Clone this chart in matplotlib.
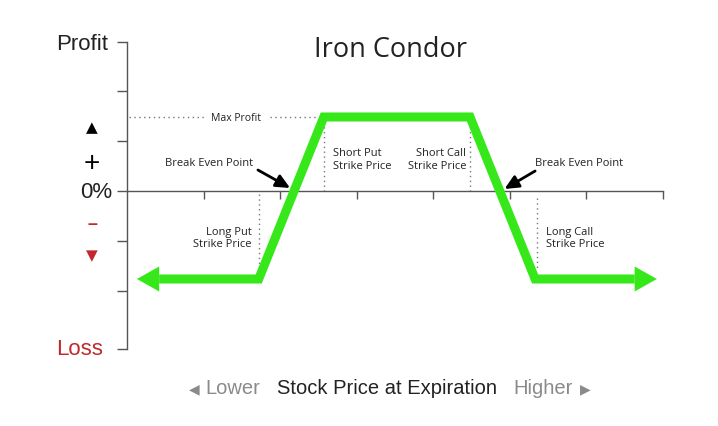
import matplotlib
matplotlib.use("Agg")
import matplotlib.pyplot as plt

# ---------------------------------------------------------------------------
# Data (x: price ticks 0..7, y: profit units, 0 = break even)
# ---------------------------------------------------------------------------
strike_x = [1.72, 2.57, 4.48, 5.33]          # long put, short put, short call, long call
payoff_y = [-1.76, 1.48, 1.48, -1.76]
arrow_tips = [0.13, 6.92]
arrow_bases = [0.42, 6.63]
y_ticks = [2.98, 2, 1, 0, -1, -2, -3.16]
x_ticks = [1, 2, 3, 4, 5, 6, 7]
max_profit = 1.48
loss_level = -1.76

GREEN = "#36e81a"
AXIS = "#555555"
RED = "#c0282d"
GREY = "#8a8a8a"

W, H = 718, 427
fig = plt.figure(figsize=(W / 100, H / 100), dpi=100)
ax = fig.add_axes([127 / W, (H - 350) / H, 536 / W, 307 / H])
ax.set_xlim(0, 7)
ax.set_ylim(-3.16, 2.98)

for s in ["top", "right"]:
    ax.spines[s].set_visible(False)
ax.spines["bottom"].set_position(("data", 0))
for s in ["left", "bottom"]:
    ax.spines[s].set_color(AXIS)
    ax.spines[s].set_linewidth(1.0)
ax.set_yticks(y_ticks)
ax.set_xticks(x_ticks)
ax.set_yticklabels([])
ax.set_xticklabels([])
ax.tick_params(axis="y", direction="out", length=7, width=1.0, color=AXIS)
ax.tick_params(axis="x", direction="out", length=6, width=1.0, color=AXIS)
ax.patch.set_alpha(0)

# payoff line
px = [arrow_bases[0]] + strike_x + [arrow_bases[1]]
py = [loss_level] + payoff_y + [loss_level]
ax.plot(px, py, color=GREEN, lw=6.5, solid_joinstyle="miter", solid_capstyle="butt", zorder=5)
for tip, base in zip(arrow_tips, arrow_bases):
    ax.annotate("", xy=(tip, loss_level), xytext=(base, loss_level),
                arrowprops=dict(arrowstyle="-|>,head_length=1.6,head_width=0.9",
                                mutation_scale=10, color=GREEN, lw=0,
                                shrinkA=0, shrinkB=0), zorder=5)

# dotted guide lines
dot = dict(color="#777777", lw=1.0, ls=(0, (1, 2.5)), zorder=2)
ax.plot([0.03, strike_x[1]], [max_profit, max_profit], **dot)
ax.plot([strike_x[0]] * 2, [-0.06, -1.5], **dot)
ax.plot([strike_x[1]] * 2, [max_profit, 0], **dot)
ax.plot([strike_x[2]] * 2, [max_profit, 0], **dot)
ax.plot([5.35] * 2, [-0.14, -1.56], **dot)

lab = dict(family="Open Sans", fontsize=8, color="#222222", linespacing=1.2)
ax.text(1.42, max_profit, "Max Profit", ha="center", va="center",
        bbox=dict(fc="white", ec="none", pad=5), zorder=3,
        **{**lab, "fontsize": 7.5})
ax.text(1.07, 0.58, "Break Even Point", ha="center", va="center", **lab)
ax.text(5.33, 0.56, "Break Even Point", ha="left", va="center", **lab)
ax.text(1.63, -0.93, "Long Put\nStrike Price", ha="right", va="center", **lab)
ax.text(2.69, 0.64, "Short Put\nStrike Price", ha="left", va="center", **lab)
ax.text(4.43, 0.64, "Short Call\nStrike Price", ha="right", va="center", **lab)
ax.text(5.47, -0.93, "Long Call\nStrike Price", ha="left", va="center", **lab)

arr = dict(arrowstyle="-|>,head_length=0.6,head_width=0.28", color="black",
           lw=2.0, mutation_scale=14, shrinkA=0, shrinkB=0)
ax.annotate("", xy=(2.13, 0.06), xytext=(1.71, 0.42), arrowprops=arr, zorder=6)
ax.annotate("", xy=(4.93, 0.04), xytext=(5.33, 0.40), arrowprops=arr, zorder=6)

# title and side labels
fig.text(391 / W, 1 - 50 / H, "Iron Condor", ha="center", va="center",
         family="Open Sans", fontsize=19.5, color="#222222")
side = dict(family="Liberation Sans", fontsize=16, ha="right", va="center")
fig.text(108 / W, 1 - 45 / H, "Profit", color="#222222", **side)
fig.text(112 / W, 1 - 193 / H, "0%", color="#222222", **side)
fig.text(103 / W, 1 - 350 / H, "Loss", color=RED, **side)
fig.text(92 / W, 1 - 128 / H, "\u25B2", ha="center", va="center", fontsize=11,
         family="DejaVu Sans", color="black")
fig.text(92 / W, 1 - 164 / H, "+", ha="center", va="center", fontsize=20,
         family="Liberation Sans", color="black")
fig.text(92 / W, 1 - 225 / H, "\u2013", ha="center", va="center", fontsize=13,
         family="Liberation Sans", color=RED, weight="bold")
fig.text(92 / W, 1 - 256 / H, "\u25BC", ha="center", va="center", fontsize=11,
         family="DejaVu Sans", color=RED)

# bottom axis caption
bot = dict(family="Liberation Sans", fontsize=14.5, va="center")
fig.text(189 / W, 1 - 389 / H, "\u25C0", color=GREY, ha="left", fontsize=10,
         family="DejaVu Sans", va="center")
fig.text(205 / W, 1 - 389 / H, "Lower", color=GREY, ha="left", **bot)
fig.text(387 / W, 1 - 389 / H, "Stock Price at Expiration", color="#222222",
         ha="center", **bot)
fig.text(513 / W, 1 - 389 / H, "Higher", color=GREY, ha="left", **bot)
fig.text(591 / W, 1 - 389 / H, "\u25B6", color=GREY, ha="right", fontsize=10,
         family="DejaVu Sans", va="center")

fig.savefig("out.png", dpi=100)
